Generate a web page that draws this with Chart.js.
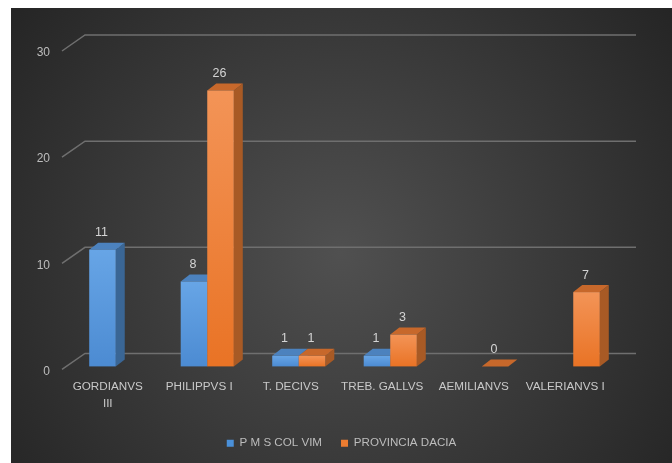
<!DOCTYPE html>
<html>
<head>
<meta charset="utf-8">
<script src="https://cdn.jsdelivr.net/npm/chart.js@4.4.1/dist/chart.umd.min.js"></script>
<style>
body { margin: 0; background: #fff; }
#contenitore { position: absolute; left: 11px; top: 8px; width: 661px; height: 455px; }
</style>
</head>
<body>
<div id="contenitore"><canvas id="grafico"></canvas></div>
<script>
const categorie = [['GORDIANVS', 'III'], 'PHILIPPVS I', 'T. DECIVS', 'TREB. GALLVS', 'AEMILIANVS', 'VALERIANVS I'];
const pmsColvim = [11, 8, 1, 1, null, null];
const provinciaDacia = [null, 26, 1, 3, 0, 7];
const tickValori = [0, 10, 20, 30];

const colori = [
    { alto: '#67a5e6', basso: '#4c8bd2', lato: '#3a6695', sopra: '#4c82be', legenda: '#4a90d9' },
    { alto: '#f39457', basso: '#e97325', lato: '#a85a25', sopra: '#c7682b', legenda: '#ed7d31' }
];
const dx = 9, dy = -7;

function disegnaBarra(ctx, x0, x1, yTop, yBase, col) {
    // lato destro
    ctx.fillStyle = col.lato;
    ctx.beginPath();
    ctx.moveTo(x1, yBase);
    ctx.lineTo(x1 + dx, yBase + dy);
    ctx.lineTo(x1 + dx, yTop + dy);
    ctx.lineTo(x1, yTop);
    ctx.closePath();
    ctx.fill();
    // faccia sopra
    ctx.fillStyle = col.sopra;
    ctx.beginPath();
    ctx.moveTo(x0, yTop);
    ctx.lineTo(x1, yTop);
    ctx.lineTo(x1 + dx, yTop + dy);
    ctx.lineTo(x0 + dx, yTop + dy);
    ctx.closePath();
    ctx.fill();
    // fronte
    if (yBase - yTop > 0) {
        const g = ctx.createLinearGradient(0, yTop, 0, yBase);
        g.addColorStop(0, col.alto);
        g.addColorStop(1, col.basso);
        ctx.fillStyle = g;
        ctx.fillRect(x0, yTop, x1 - x0, yBase - yTop);
    }
}

const sfondo = {
    id: 'sfondo',
    beforeDraw(chart) {
        const ctx = chart.ctx;
        const g = ctx.createRadialGradient(330, 245, 0, 330, 245, 430);
        g.addColorStop(0, '#505050');
        g.addColorStop(1, '#232323');
        ctx.save();
        ctx.fillStyle = g;
        ctx.fillRect(0, 0, chart.width, chart.height);
        ctx.restore();
    }
};

const barre3d = {
    id: 'barre3d',
    beforeDatasetsDraw(chart) {
        const ctx = chart.ctx;
        const area = chart.chartArea;
        const y = chart.scales.y;
        ctx.save();
        // griglia con profondita
        ctx.strokeStyle = '#6f6f6f';
        ctx.lineWidth = 1.5;
        tickValori.forEach(v => {
            const py = y.getPixelForValue(v);
            ctx.beginPath();
            ctx.moveTo(area.left - 8, py + 3);
            ctx.lineTo(area.left + 15, py - 13);
            ctx.lineTo(area.right + 17, py - 13);
            ctx.stroke();
        });

        chart.data.datasets.forEach((ds, i) => {
            const meta = chart.getDatasetMeta(i);
            meta.data.forEach((el, j) => {
                if (ds.data[j] === null) return;
                const p = el.getProps(['x', 'y', 'base', 'width'], true);
                disegnaBarra(ctx, p.x - p.width / 2, p.x + p.width / 2, p.y, p.base, colori[i]);
            });
        });

        ctx.fillStyle = '#d4d4d4';
        ctx.font = '12.5px "Liberation Sans"';
        ctx.textAlign = 'center';
        ctx.textBaseline = 'middle';
        chart.data.datasets.forEach((ds, i) => {
            const meta = chart.getDatasetMeta(i);
            meta.data.forEach((el, j) => {
                if (ds.data[j] === null) return;
                const p = el.getProps(['x', 'y'], true);
                ctx.fillText(ds.data[j], p.x - 1, p.y - 17);
            });
        });
        ctx.restore();
        return false;
    }
};

new Chart(document.getElementById('grafico'), {
    type: 'bar',
    data: {
        labels: categorie,
        datasets: [{
            label: 'P M S COL VIM',
            data: pmsColvim,
            backgroundColor: colori[0].legenda,
            categoryPercentage: 0.58,
            barPercentage: 1
        }, {
            label: 'PROVINCIA DACIA',
            data: provinciaDacia,
            backgroundColor: colori[1].legenda,
            categoryPercentage: 0.58,
            barPercentage: 1
        }]
    },
    options: {
        responsive: true,
        maintainAspectRatio: false,
        animation: false,
        devicePixelRatio: 1,
        layout: { padding: { top: 40, left: 0, right: 0, bottom: 4 } },
        plugins: {
            tooltip: { enabled: false },
            legend: {
                position: 'bottom',
                labels: {
                    color: '#bdbdbd',
                    font: { family: 'Liberation Sans', size: 11.6 },
                    boxWidth: 7,
                    boxHeight: 7,
                    padding: 19
                }
            }
        },
        scales: {
            x: {
                grid: { display: false },
                border: { display: false },
                ticks: {
                    color: '#c9c9c9',
                    font: { family: 'Liberation Sans', size: 11.7, lineHeight: 1.45 },
                    padding: 4,
                    labelOffset: -8,
                    maxRotation: 0,
                    autoSkip: false
                },
                afterFit: s => { s.height = 52; }
            },
            y: {
                min: 0,
                max: 30,
                grid: { display: false, drawTicks: false },
                border: { display: false },
                ticks: {
                    stepSize: 10,
                    color: '#bdbdbd',
                    font: { family: 'Liberation Sans', size: 12 },
                    padding: 20,
                    labelOffset: 5
                },
                afterFit: s => { s.width = 59; }
            },
            y2: {
                position: 'right',
                grid: { display: false, drawTicks: false },
                border: { display: false },
                ticks: { display: false },
                afterFit: s => { s.width = 53; }
            }
        }
    },
    plugins: [sfondo, barre3d]
});
</script>
</body>
</html>
